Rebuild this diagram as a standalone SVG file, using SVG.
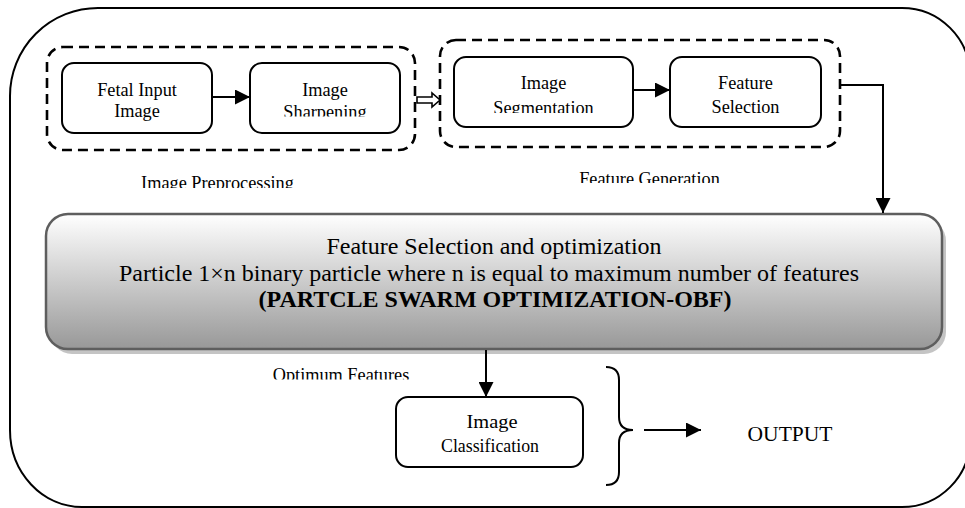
<svg xmlns="http://www.w3.org/2000/svg" width="965" height="508" viewBox="0 0 965 508">
  <defs>
    <style>
      .frame { fill: none; stroke: #000; stroke-width: 2; }
      .group { fill: none; stroke: #000; stroke-width: 2.6; stroke-dasharray: 10 6; }
      .box { fill: #fff; stroke: #000; stroke-width: 2; }
      .wire { fill: none; stroke: #000; stroke-width: 2; }
    </style>
    <marker id="head" markerUnits="userSpaceOnUse" markerWidth="16" markerHeight="15" refX="15" refY="7.5" orient="auto">
      <path d="M0,0 L15,7.5 L0,15 Z" fill="#000"/>
    </marker>
    <linearGradient id="shade" x1="0" y1="0" x2="0" y2="1">
      <stop offset="0" stop-color="#ffffff"/>
      <stop offset="1" stop-color="#989898"/>
    </linearGradient>
    <clipPath id="cutSharp"><rect x="240" y="60" width="170" height="56.5"/></clipPath>
    <clipPath id="cutSeg"><rect x="450" y="50" width="190" height="63"/></clipPath>
    <clipPath id="cutPre"><rect x="100" y="160" width="240" height="28"/></clipPath>
    <clipPath id="cutGen"><rect x="540" y="160" width="220" height="23"/></clipPath>
    <clipPath id="cutOpt"><rect x="250" y="355" width="190" height="24.5"/></clipPath>
  </defs>

  <!-- outer rounded frame -->
  <path class="frame" d="M98,8 H902 A68,68 0 0 1 970,76 V439 A68,68 0 0 1 902,507 H82 A72,77 0 0 1 10,430 V96 A88,88 0 0 1 98,8 Z"/>

  <!-- dashed stage groups -->
  <g id="preprocessing">
    <rect class="group" x="47" y="47" width="368" height="103" rx="16"/>
    <text x="217.5" y="189" font-family="Liberation Serif, serif" font-size="18.3" text-anchor="middle" clip-path="url(#cutPre)">Image Preprocessing</text>
  </g>
  <g id="generation">
    <rect class="group" x="440" y="40" width="400" height="107" rx="16"/>
    <text x="649.5" y="185" font-family="Liberation Serif, serif" font-size="18.3" text-anchor="middle" clip-path="url(#cutGen)">Feature Generation</text>
  </g>

  <!-- process nodes -->
  <g id="fetal-input" font-family="Liberation Serif, serif" font-size="18.3" text-anchor="middle">
    <rect class="box" x="62" y="63" width="150" height="70" rx="12"/>
    <text x="137" y="96" font-family="Liberation Serif, serif">Fetal Input</text>
    <text x="137" y="117" font-family="Liberation Serif, serif">Image</text>
  </g>
  <g id="sharpening" font-family="Liberation Serif, serif" font-size="18.3" text-anchor="middle">
    <rect class="box" x="250" y="63" width="150" height="70" rx="12"/>
    <text x="325" y="96" font-family="Liberation Serif, serif">Image</text>
    <text x="325" y="117.5" font-family="Liberation Serif, serif" clip-path="url(#cutSharp)">Sharpening</text>
  </g>
  <g id="segmentation" font-family="Liberation Serif, serif" font-size="18.3" text-anchor="middle">
    <rect class="box" x="454" y="57" width="179" height="70" rx="12"/>
    <text x="543.5" y="89" font-family="Liberation Serif, serif">Image</text>
    <text x="543.5" y="113.5" font-family="Liberation Serif, serif" clip-path="url(#cutSeg)">Segmentation</text>
  </g>
  <g id="feature-selection" font-family="Liberation Serif, serif" font-size="18.3" text-anchor="middle">
    <rect class="box" x="670" y="57" width="151" height="70" rx="12"/>
    <text x="745.5" y="89" font-family="Liberation Serif, serif">Feature</text>
    <text x="745.5" y="113" font-family="Liberation Serif, serif">Selection</text>
  </g>

  <g id="optimization" font-family="Liberation Serif, serif" font-size="24" text-anchor="middle">
    <rect x="50" y="219" width="896" height="135" rx="22" fill="#c4c4c4"/>
    <rect x="46" y="214" width="896" height="135" rx="22" fill="url(#shade)" stroke="#5e5e5e" stroke-width="2.5"/>
    <text x="494" y="254" font-family="Liberation Serif, serif">Feature Selection and optimization</text>
    <text x="489" y="281" font-family="Liberation Serif, serif">Particle 1×n binary particle where n is equal to maximum number of features</text>
    <text x="495" y="307" font-family="Liberation Serif, serif" font-weight="bold">(PARTCLE SWARM OPTIMIZATION-OBF)</text>
  </g>

  <g id="classification" font-family="Liberation Serif, serif" font-size="18.3" text-anchor="middle">
    <rect class="box" x="396" y="397" width="187" height="70" rx="12"/>
    <text x="492" y="428" font-family="Liberation Serif, serif" textLength="51" lengthAdjust="spacingAndGlyphs">Image</text>
    <text x="490" y="452" font-family="Liberation Serif, serif" textLength="98" lengthAdjust="spacingAndGlyphs">Classification</text>
  </g>

  <g id="output">
    <path class="wire" d="M606,367 Q619,367 619,380 V417 Q619,430 633,430 Q619,430 619,443 V472 Q619,485 606,485"/>
    <text x="790" y="441" font-family="Liberation Serif, serif" font-size="21.5" text-anchor="middle">OUTPUT</text>
  </g>

  <text x="341" y="380.5" font-family="Liberation Serif, serif" font-size="18.3" text-anchor="middle" clip-path="url(#cutOpt)">Optimum Features</text>

  <!-- connectors -->
  <g id="connectors">
    <line class="wire" x1="212" y1="97" x2="250" y2="97" marker-end="url(#head)"/>
    <line class="wire" x1="633" y1="90" x2="670" y2="90" marker-end="url(#head)"/>
    <path d="M417,97 H432 V93 L440,100 L432,107 V103 H417 Z" fill="#fff" stroke="#000" stroke-width="1.6"/>
    <path class="wire" d="M840,85 H883 V213" marker-end="url(#head)"/>
    <line class="wire" x1="486" y1="350" x2="486" y2="397" marker-end="url(#head)"/>
    <line class="wire" x1="644" y1="430" x2="701" y2="430" marker-end="url(#head)"/>
  </g>
</svg>
